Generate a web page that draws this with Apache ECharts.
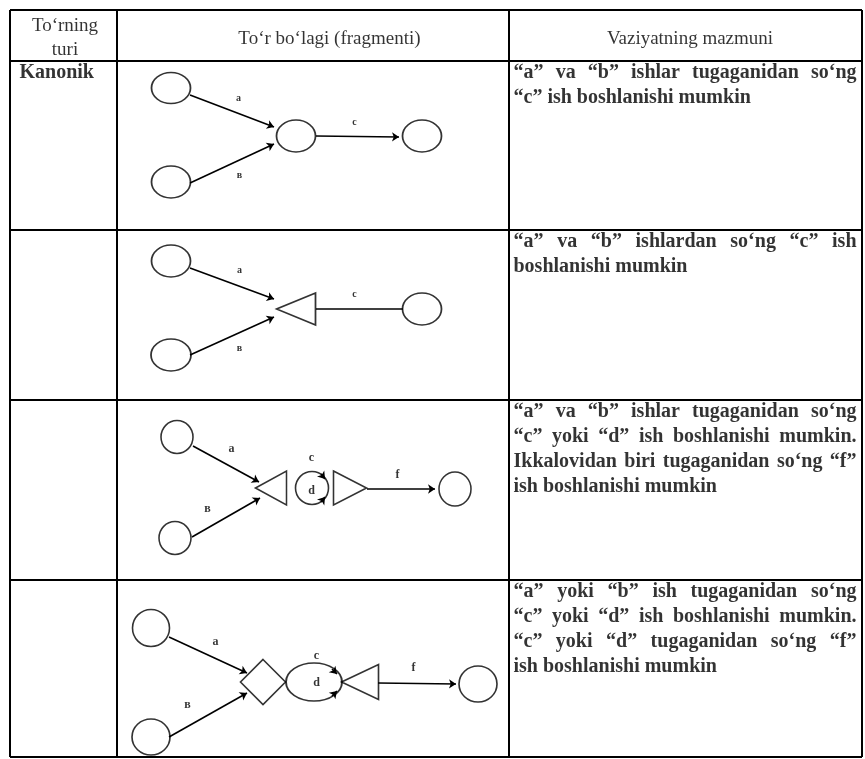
<!DOCTYPE html>
<html><head><meta charset="utf-8">
<script src="https://cdn.jsdelivr.net/npm/echarts@6/dist/echarts.min.js"></script>
<style>html,body{margin:0;padding:0;background:#fff}#c{width:865px;height:759px}</style>
</head><body><div id="c"></div>
<script>
// ---------- table structure ----------
const colEdges = [10, 117, 509, 862];
const rowEdges = [10, 61, 230, 400, 580, 757];

// ---------- texts ----------
const headerCol1 = ["To‘rning", "turi"];
const headerCol2 = "To‘r bo‘lagi (fragmenti)";
const headerCol3 = "Vaziyatning mazmuni";
const networkTypes = ["Kanonik", "", "", ""];
const descLines = [
  ["“a” va “b” ishlar tugaganidan so‘ng", "“c” ish boshlanishi mumkin"],
  ["“a” va “b” ishlardan so‘ng “c” ish", "boshlanishi mumkin"],
  ["“a” va “b” ishlar tugaganidan so‘ng", "“c” yoki “d” ish boshlanishi mumkin.", "Ikkalovidan biri tugaganidan so‘ng “f”", "ish boshlanishi mumkin"],
  ["“a” yoki “b” ish tugaganidan so‘ng", "“c” yoki “d” ish boshlanishi mumkin.", "“c” yoki “d”  tugaganidan so‘ng “f”", "ish boshlanishi mumkin"]
];

// ---------- fragment diagrams: node centres ----------
const fragmentNodes = [
  [[171, 88], [171, 182], [296, 136], [422, 136]],
  [[171, 261], [171, 355], [296, 309], [422, 309]],
  [[177, 437], [175, 538], [271, 488], [312, 488], [350, 488], [455, 489]],
  [[151, 628], [151, 737], [263, 682], [314, 682], [360, 682], [478, 684]]
];
const fragmentNodeKinds = [
  ["event", "event", "event", "event"],
  ["event", "event", "joinLeft", "event"],
  ["event", "event", "joinLeft", "event", "joinRight", "event"],
  ["event", "event", "diamond", "event", "joinLeft", "event"]
];
// works: [name, x1, y1, x2, y2, labelX, labelY]
const fragmentWorks = [
  [["a", 190, 95, 274, 127, 239, 99], ["в", 190, 183, 274, 144, 240, 176], ["c", 316, 136, 399, 137, 355, 123]],
  [["a", 190, 268, 274, 299, 240, 271], ["в", 190, 355, 274, 317, 240, 349], ["c", 316, 309, 403, 309, 355, 295]],
  [["a", 193, 446, 259, 482, 232, 449], ["в", 192, 537, 260, 498, 208, 509], ["f", 367, 489, 435, 489, 398, 475],
   ["c", 321, 474, 325, 479, 312, 458], ["d", 321, 502, 325, 497, 312, 491]],
  [["a", 169, 637, 247, 673, 216, 642], ["в", 169, 737, 247, 693, 188, 705], ["f", 378, 683, 456, 684, 414, 668],
   ["c", 332, 669, 337, 674, 317, 656], ["d", 332, 696, 337, 691, 317, 683]]
];
const fragmentWorkArrow = [
  [true, true, true],
  [true, true, false],
  [true, true, true, true, true],
  [true, true, true, true, true]
];

// ---------- styling (sizes, fonts) ----------
const nodeSizes = [
  [[39, 31], [39, 32], [39, 32], [39, 32]],
  [[39, 32], [40, 32], [39, 32], [39, 32]],
  [[32, 33], [32, 33], [31, 34], [33, 33], [33, 34], [32, 34]],
  [[37, 37], [38, 36], [45, 45], [56, 38], [37, 35], [38, 36]]
];
const kindSymbol = {
  event: 'path://M50,0 C77.6,0 100,22.4 100,50 C100,77.6 77.6,100 50,100 C22.4,100 0,77.6 0,50 C0,22.4 22.4,0 50,0 Z',
  joinLeft: 'path://M0,50 L100,0 L100,100 Z',
  joinRight: 'path://M0,0 L100,50 L0,100 Z',
  diamond: 'path://M50,0 L100,50 L50,100 L0,50 Z'
};
const workLabelSize = [10, 10, 12, 12];
const FONT = '"Liberation Serif","Times New Roman",serif';
const descFontSize = 20;
const INK = '#000000';

// ---------- build series data ----------
const tableSegs = [];
colEdges.forEach(x => tableSegs.push({ coords: [[x, rowEdges[0]], [x, rowEdges[rowEdges.length - 1]]] }));
rowEdges.forEach(y => tableSegs.push({ coords: [[colEdges[0], y], [colEdges[colEdges.length - 1], y]] }));

const nodeData = [];
fragmentNodes.forEach((row, r) => row.forEach((p, i) => {
  nodeData.push({ value: p, symbol: kindSymbol[fragmentNodeKinds[r][i]], symbolSize: nodeSizes[r][i] });
}));

const arrowData = [], plainData = [], workLabelData = [];
fragmentWorks.forEach((row, r) => row.forEach((w, i) => {
  const item = { coords: [[w[1], w[2]], [w[3], w[4]]] };
  (fragmentWorkArrow[r][i] ? arrowData : plainData).push(item);
  workLabelData.push({ name: w[0], value: [w[5], w[6]], label: { fontSize: workLabelSize[r] } });
}));

const ctx = document.createElement('canvas').getContext('2d');
ctx.font = 'bold ' + descFontSize + 'px ' + FONT;
const descData = [];
descLines.forEach((lines, r) => {
  const top = rowEdges[r + 1];
  const left = colEdges[2] + 5, right = colEdges[3] - 5;
  lines.forEach((line, i) => {
    const y = top + 12 + i * 25;
    const words = line.split(/\s+/);
    const last = i === lines.length - 1;
    const widths = words.map(w => ctx.measureText(w).width);
    const sum = widths.reduce((a, b) => a + b, 0);
    const space = ctx.measureText(' ').width;
    const gap = (!last && words.length > 1) ? (right - left - sum) / (words.length - 1) : space;
    let x = left;
    words.forEach((w, k) => { descData.push({ name: w, value: [x, y] }); x += widths[k] + gap; });
  });
});

const typeData = [];
networkTypes.forEach((t, r) => { if (t) typeData.push({ name: t, value: [colEdges[0] + 10, rowEdges[r + 1] + 12] }); });

const headerData = [
  { name: headerCol1[0], value: [(colEdges[0] + colEdges[1]) / 2 + 2, 27] },
  { name: headerCol1[1], value: [(colEdges[0] + colEdges[1]) / 2 + 2, 51] },
  { name: headerCol2, value: [(colEdges[1] + colEdges[2]) / 2 + 17, 40] },
  { name: headerCol3, value: [(colEdges[2] + colEdges[3]) / 2 + 5, 40] }
];

function textSeries(data, label) {
  return {
    type: 'scatter', data: data, symbolSize: 1, itemStyle: { color: 'rgba(0,0,0,0)' }, silent: true, z: 5,
    label: Object.assign({ show: true, formatter: '{b}', position: [0, 0], verticalAlign: 'middle', color: INK,
      textBorderWidth: 0, fontFamily: FONT }, label)
  };
}

const chart = echarts.init(document.getElementById('c'), null, { renderer: 'canvas', width: 865, height: 759 });
chart.setOption({
  animation: false,
  backgroundColor: '#fff',
  grid: { left: 0, right: 0, top: 0, bottom: 0 },
  xAxis: { type: 'value', min: 0, max: 865, show: false },
  yAxis: { type: 'value', min: 0, max: 759, inverse: true, show: false },
  series: [
    { type: 'lines', coordinateSystem: 'cartesian2d', data: tableSegs, symbol: 'none', silent: true, z: 1,
      lineStyle: { color: INK, width: 2, opacity: 1 } },
    { type: 'lines', coordinateSystem: 'cartesian2d', data: arrowData, symbol: ['none', 'arrow'], symbolSize: 7, silent: true, z: 2,
      lineStyle: { color: INK, width: 1.6, opacity: 1 } },
    { type: 'lines', coordinateSystem: 'cartesian2d', data: plainData, symbol: 'none', silent: true, z: 2,
      lineStyle: { color: INK, width: 1.6, opacity: 1 } },
    { type: 'scatter', data: nodeData, silent: true, z: 3,
      itemStyle: { color: 'rgba(0,0,0,0)', borderColor: INK, borderWidth: 1.6 } },
    textSeries(workLabelData, { align: 'center', fontWeight: 'bold', fontSize: 11 }),
    textSeries(headerData, { align: 'center', fontSize: 19 }),
    textSeries(typeData, { align: 'left', fontWeight: 'bold', fontSize: 20 }),
    textSeries(descData, { align: 'left', fontWeight: 'bold', fontSize: descFontSize })
  ]
});
</script></body></html>
